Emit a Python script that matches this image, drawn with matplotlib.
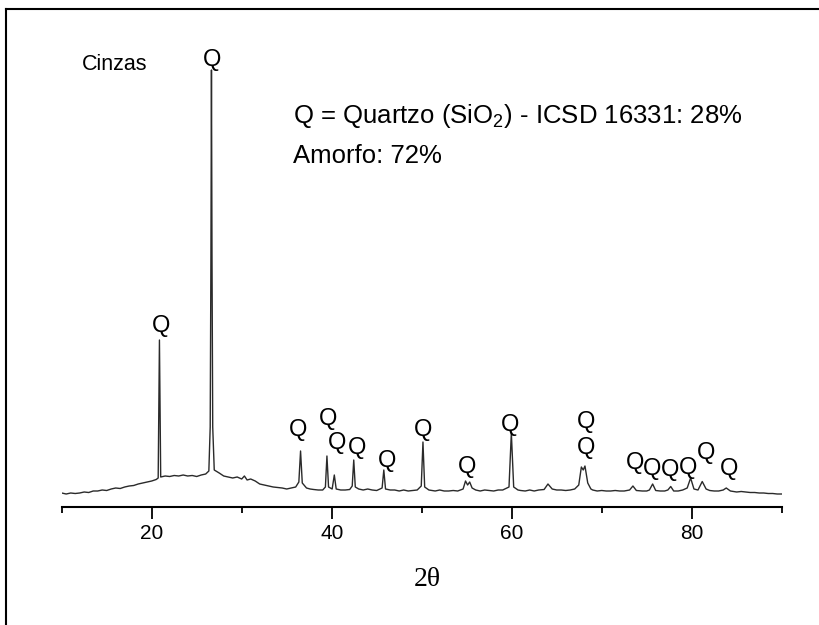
import matplotlib
matplotlib.use("Agg")
import matplotlib.pyplot as plt
from matplotlib.lines import Line2D

plt.rcParams['font.family'] = ['Liberation Sans', 'DejaVu Sans']
plt.rcParams['mathtext.fontset'] = 'custom'
plt.rcParams['mathtext.rm'] = 'Liberation Sans'

# XRD pattern (2theta in degrees, intensity in arbitrary units)
two_theta = [10.0, 10.5, 11.0, 11.5, 12.0, 12.5, 13.0, 13.5, 14.0, 14.5, 15.0, 15.5, 16.0, 16.5,
             17.0, 17.5, 18.0, 18.5, 19.0, 19.5, 20.0, 20.5, 20.72, 20.8, 20.86, 20.92, 21.0,
             21.5, 22.0, 22.5, 23.0, 23.5, 24.0, 24.5, 25.0, 25.5, 26.0, 26.35, 26.5, 26.58,
             26.64, 26.7, 26.78, 26.95, 27.5, 28.0, 28.5, 29.0, 29.5, 30.0, 30.3, 30.6, 31.0,
             31.5, 32.0, 32.5, 33.0, 33.5, 34.0, 34.5, 35.0, 35.5, 36.0, 36.35, 36.54, 36.73,
             37.2, 37.6, 38.0, 38.5, 39.0, 39.3, 39.47, 39.65, 40.05, 40.29, 40.5, 41.0, 41.5,
             42.0, 42.28, 42.45, 42.62, 43.0, 43.5, 44.0, 44.5, 45.0, 45.6, 45.79, 45.98, 46.5,
             47.0, 47.5, 48.0, 48.5, 49.0, 49.5, 49.95, 50.14, 50.33, 50.8, 51.5, 52.0, 52.5,
             53.0, 53.5, 54.0, 54.6, 54.87, 55.1, 55.33, 55.6, 56.0, 56.5, 57.0, 57.5, 58.0,
             58.5, 59.0, 59.7, 59.96, 60.22, 60.7, 61.0, 61.5, 62.0, 62.5, 63.0, 63.6, 64.03,
             64.5, 65.0, 65.5, 66.0, 66.5, 67.0, 67.45, 67.74, 67.95, 68.14, 68.45, 68.8, 69.0,
             69.5, 70.0, 70.5, 71.0, 71.5, 72.0, 72.5, 73.1, 73.47, 73.85, 74.5, 75.0, 75.3,
             75.66, 76.0, 76.5, 77.0, 77.35, 77.67, 78.0, 78.5, 79.0, 79.5, 79.88, 80.25, 80.7,
             81.17, 81.6, 82.0, 82.5, 83.0, 83.5, 83.84, 84.3, 85.0, 85.5, 86.0, 86.5, 87.0,
             87.5, 88.0, 88.5, 89.0, 89.5, 90.0]
intensity = [14, 13, 14, 13.5, 14, 15, 14.5, 16, 16, 17, 16.5, 18, 19, 18.5,
             20, 21, 21.5, 23, 24, 25, 26, 27.5, 29, 110, 167, 110, 30,
             31, 30.5, 31.5, 31, 32, 31, 31.5, 30.5, 32, 33, 36, 80, 250,
             437, 250, 80, 37, 34, 31, 30, 29, 30, 28, 31, 27, 28,
             26, 23, 22, 21, 20, 19.5, 19, 18, 19, 20, 25, 56, 24,
             19, 18, 17.5, 17, 17, 20, 51, 20, 18, 32, 18, 17, 17,
             17.5, 21, 47, 20, 18, 17, 18, 17, 16.5, 19, 37, 18, 17,
             17, 16, 17, 16, 16.5, 17, 21, 65, 20, 17, 16, 17, 16,
             16, 16.5, 16, 18, 26, 22, 25, 19, 17, 16, 17, 16.5, 16,
             17, 17, 20, 74, 20, 17, 16.5, 16, 17, 16, 17, 17.5, 23,
             18, 17, 17, 16.5, 17, 18, 22, 40, 37, 41, 24, 18, 17,
             16, 16.5, 16, 16, 16.5, 16, 16, 17, 21, 16.5, 16, 16, 17,
             23, 16.5, 16, 16, 17, 20.5, 16, 16, 17, 19, 29, 18, 17,
             25.5, 18, 16.5, 16, 16, 17, 19, 16, 15, 15.5, 15, 14.5, 14.5,
             14, 14, 13.5, 13.5, 13, 13]

# Quartz peak labels (text centre positions)
q_x = [21.0, 26.7, 36.3, 39.6, 40.6, 42.8, 46.1, 50.1, 55.0, 59.8, 68.26, 68.26,
       73.7, 75.6, 77.6, 79.6, 81.6, 84.1]
q_y = [181, 447, 77, 88, 64, 59, 46, 77, 40, 82, 85, 59,
       44, 38, 37, 39, 54, 38]

sample_label = "Cinzas"
phase_lines = ["Q = Quartzo (SiO$_\\mathregular{2}$) - ICSD 16331: 28%", "Amorfo: 72%"]
x_ticks_major = [20, 40, 60, 80]
x_ticks_minor = [10, 30, 50, 70, 90]

W, H = 819, 625
fig = plt.figure(figsize=(W / 100, H / 100), dpi=100)
ax = fig.add_axes([61.7 / W, 1 - 507 / H, (781.7 - 61.7) / W, (507 - 20) / H])
ax.plot(two_theta, intensity, color='#2a2a2a', lw=1.0)
ax.set_xlim(10, 90)
ax.set_ylim(0, 487)

for s in ['left', 'right', 'top']:
    ax.spines[s].set_visible(False)
ax.spines['bottom'].set_linewidth(1.5)
ax.set_yticks([])
ax.set_xticks(x_ticks_major)
ax.set_xticks(x_ticks_minor, minor=True)
ax.tick_params(axis='x', which='major', length=8.5, width=1.3, labelsize=15, pad=4)
ax.tick_params(axis='x', which='minor', length=4.5, width=1.3)
ax.patch.set_alpha(0)

for x, y in zip(q_x, q_y):
    ax.text(x, y, "Q", ha='center', va='center', fontsize=17)

ax.text(12.26, 443, sample_label, ha='left', va='center', fontsize=15.5)
ax.text(35.7, 391, phase_lines[0], ha='left', va='center', fontsize=18.5)
ax.text(35.7, 351, phase_lines[1], ha='left', va='center', fontsize=18.5)

fig.text(427 / W, 1 - 580 / H, "2θ", ha='center', va='center', fontsize=20,
         family=['Liberation Serif', 'DejaVu Serif'])

# figure frame (left and top edges visible)
fig.add_artist(Line2D([5.5 / W, 5.5 / W], [0, 1 - 8.5 / H], transform=fig.transFigure,
                      color='black', lw=1.5))
fig.add_artist(Line2D([5.5 / W, 1], [1 - 8.5 / H, 1 - 8.5 / H], transform=fig.transFigure,
                      color='black', lw=1.5))

fig.savefig("out.png", dpi=100)
